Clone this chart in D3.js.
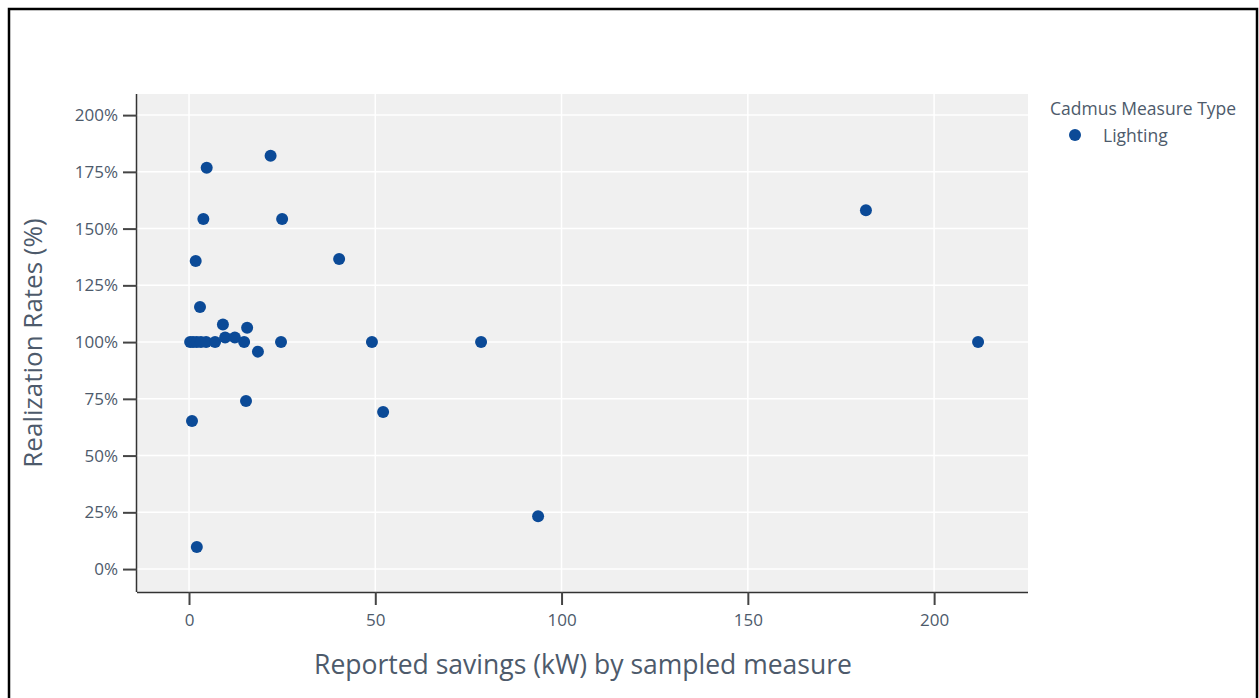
<!DOCTYPE html>
<html>
<head>
<meta charset="utf-8">
<script src="https://cdn.jsdelivr.net/npm/d3@7"></script>
<style>
  html, body { margin: 0; padding: 0; background: #fff; }
  svg { display: block; }
  text { font-family: "Open Sans", "Noto Sans", sans-serif; }
</style>
</head>
<body>
<svg id="chart" width="1259" height="698"></svg>
<script>
// ---- data ----
const savingsKW = [0.3, 1.1, 2.1, 3.2, 4.6, 7.0, 9.7, 12.3, 14.8, 18.5, 15.6, 9.1, 2.95,
                   4.75, 21.9, 3.85, 25.0, 1.8, 40.3, 24.7, 49.1, 52.1, 78.4, 93.7,
                   181.7, 211.8, 0.8, 2.1, 15.3];
const realizationRate = [100, 100, 100, 100, 100, 100, 102, 102, 100, 95.8, 106.3, 107.8, 115.5,
                   176.8, 182.1, 154.2, 154.2, 135.7, 136.6, 100, 100, 69.2, 100, 23.3,
                   158.1, 100, 65.2, 9.7, 74.0];
const xTicks = [0, 50, 100, 150, 200];
const yTicks = [0, 25, 50, 75, 100, 125, 150, 175, 200];
const seriesName = "Lighting";
const legendTitle = "Cadmus Measure Type";

// ---- layout ----
const svg = d3.select("#chart");
const plot = { left: 137, right: 1028, top: 94, bottom: 592 };
const textColor = "#4d5a6b";
const markerColor = "#0b4a97";

// outer frame
svg.append("rect").attr("x", 9).attr("y", 9).attr("width", 1248).attr("height", 720)
  .attr("fill", "none").attr("stroke", "#000").attr("stroke-width", 2.5);

const x = d3.scaleLinear().domain([-13.96, 225.2]).range([plot.left, plot.right]);
const y = d3.scaleLinear().domain([-10.1, 209.3]).range([plot.bottom, plot.top]);

// background
svg.append("rect").attr("x", plot.left).attr("y", plot.top)
  .attr("width", plot.right - plot.left).attr("height", plot.bottom - plot.top)
  .attr("fill", "#f0f0f0");

// gridlines
svg.append("g").selectAll("line").data(xTicks).join("line")
  .attr("x1", d => x(d)).attr("x2", d => x(d))
  .attr("y1", plot.top).attr("y2", plot.bottom)
  .attr("stroke", "#fff").attr("stroke-width", 1.5);
svg.append("g").selectAll("line").data(yTicks).join("line")
  .attr("y1", d => y(d)).attr("y2", d => y(d))
  .attr("x1", plot.left).attr("x2", plot.right)
  .attr("stroke", "#fff").attr("stroke-width", 1.5);

// axes
const xAxis = d3.axisBottom(x).tickValues(xTicks).tickSize(13).tickPadding(9).tickFormat(d3.format("d"));
const yAxis = d3.axisLeft(y).tickValues(yTicks).tickSize(14).tickPadding(5).tickFormat(d => d + "%");

const gx = svg.append("g").attr("transform", `translate(0,${plot.bottom})`).call(xAxis);
const gy = svg.append("g").attr("transform", `translate(${plot.left},0)`).call(yAxis);
[gx, gy].forEach(g => {
  g.select(".domain").attr("stroke", "#333").attr("stroke-width", 1.5);
  g.selectAll(".tick line").attr("stroke", "#444").attr("stroke-width", 2);
  g.selectAll(".tick text").attr("fill", textColor).style("font-size", "17px")
    .style("font-family", "'Open Sans', 'Noto Sans', sans-serif");
});
gx.select(".domain").attr("d", `M${plot.left},0.5H${plot.right}`);
gy.select(".domain").attr("d", `M-0.5,${plot.top}V${plot.bottom}`);

// points
svg.append("g").selectAll("circle").data(savingsKW.map((v, i) => [v, realizationRate[i]]))
  .join("circle")
  .attr("cx", d => x(d[0])).attr("cy", d => y(d[1])).attr("r", 6)
  .attr("fill", markerColor);

// axis titles
svg.append("text").attr("x", 583).attr("y", 674)
  .attr("text-anchor", "middle").attr("fill", textColor).style("font-size", "26.5px")
  .text("Reported savings (kW) by sampled measure");
svg.append("text").attr("transform", `translate(42,${(plot.top + plot.bottom) / 2}) rotate(-90)`)
  .attr("text-anchor", "middle").attr("fill", textColor).style("font-size", "26px")
  .text("Realization Rates (%)");

// legend
svg.append("text").attr("x", 1050).attr("y", 115).attr("fill", textColor)
  .style("font-size", "17.5px").text(legendTitle);
svg.append("circle").attr("cx", 1075).attr("cy", 135).attr("r", 6).attr("fill", markerColor);
svg.append("text").attr("x", 1103).attr("y", 142).attr("fill", textColor)
  .style("font-size", "17.5px").text(seriesName);
</script>
</body>
</html>
